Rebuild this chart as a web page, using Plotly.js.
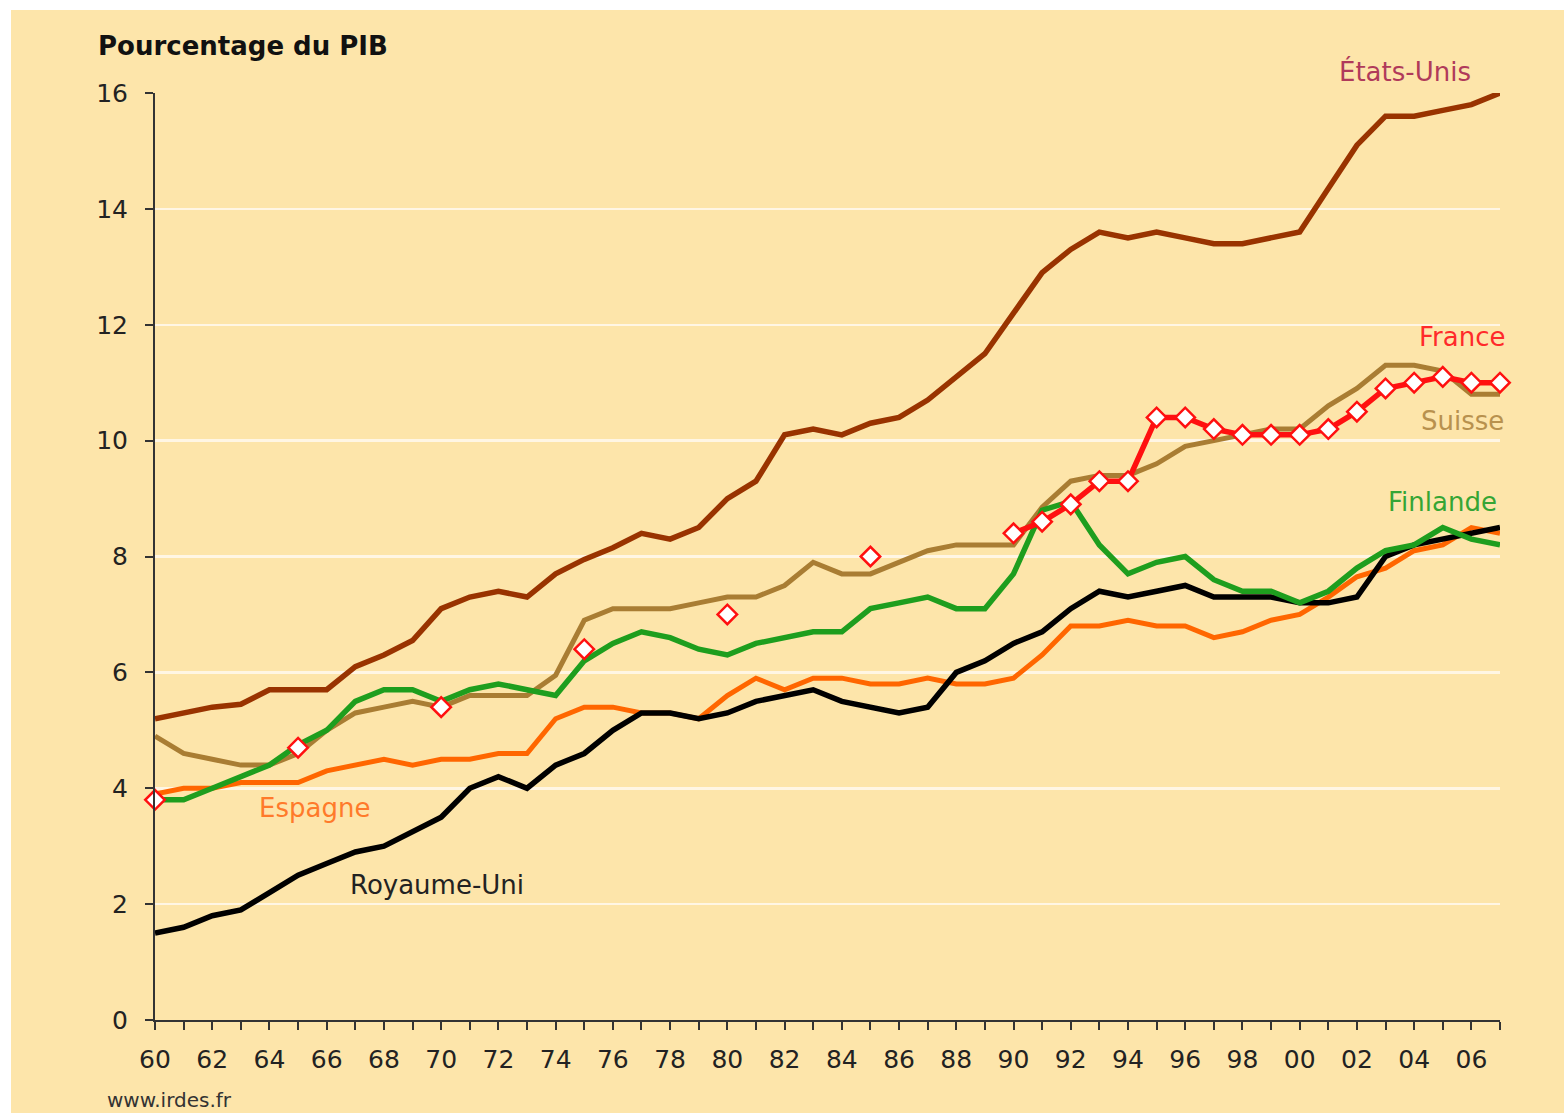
<!DOCTYPE html>
<html>
<head>
<meta charset="utf-8">
<script src="https://cdn.plot.ly/plotly-3.0.1.min.js"></script>
<style>
  html, body { margin: 0; padding: 0; background: #ffffff; width: 1564px; height: 1113px; overflow: hidden; }
  #chart { position: absolute; left: 11px; top: 10px; width: 1553px; height: 1103px; }
</style>
</head>
<body>
<div id="chart"></div>
<script>
// ---- Data ----
const years = [1960,1961,1962,1963,1964,1965,1966,1967,1968,1969,
               1970,1971,1972,1973,1974,1975,1976,1977,1978,1979,
               1980,1981,1982,1983,1984,1985,1986,1987,1988,1989,
               1990,1991,1992,1993,1994,1995,1996,1997,1998,1999,
               2000,2001,2002,2003,2004,2005,2006,2007];

const etatsUnis = [5.2,5.3,5.4,5.45,5.7,5.7,5.7,6.1,6.3,6.55,
                   7.1,7.3,7.4,7.3,7.7,7.95,8.15,8.4,8.3,8.5,
                   9.0,9.3,10.1,10.2,10.1,10.3,10.4,10.7,11.1,11.5,
                   12.2,12.9,13.3,13.6,13.5,13.6,13.5,13.4,13.4,13.5,
                   13.6,14.35,15.1,15.6,15.6,15.7,15.8,16.0];

const suisse = [4.9,4.6,4.5,4.4,4.4,4.6,5.0,5.3,5.4,5.5,
                5.4,5.6,5.6,5.6,5.95,6.9,7.1,7.1,7.1,7.2,
                7.3,7.3,7.5,7.9,7.7,7.7,7.9,8.1,8.2,8.2,
                8.2,8.85,9.3,9.4,9.4,9.6,9.9,10.0,10.1,10.2,
                10.2,10.6,10.9,11.3,11.3,11.2,10.8,10.8];

const finlande = [3.8,3.8,4.0,4.2,4.4,4.75,5.0,5.5,5.7,5.7,
                  5.5,5.7,5.8,5.7,5.6,6.2,6.5,6.7,6.6,6.4,
                  6.3,6.5,6.6,6.7,6.7,7.1,7.2,7.3,7.1,7.1,
                  7.7,8.8,8.95,8.2,7.7,7.9,8.0,7.6,7.4,7.4,
                  7.2,7.4,7.8,8.1,8.2,8.5,8.3,8.2];

const espagne = [3.9,4.0,4.0,4.1,4.1,4.1,4.3,4.4,4.5,4.4,
                 4.5,4.5,4.6,4.6,5.2,5.4,5.4,5.3,5.3,5.2,
                 5.6,5.9,5.7,5.9,5.9,5.8,5.8,5.9,5.8,5.8,
                 5.9,6.3,6.8,6.8,6.9,6.8,6.8,6.6,6.7,6.9,
                 7.0,7.3,7.65,7.8,8.1,8.2,8.5,8.4];

const royaumeUni = [1.5,1.6,1.8,1.9,2.2,2.5,2.7,2.9,3.0,3.25,
                    3.5,4.0,4.2,4.0,4.4,4.6,5.0,5.3,5.3,5.2,
                    5.3,5.5,5.6,5.7,5.5,5.4,5.3,5.4,6.0,6.2,
                    6.5,6.7,7.1,7.4,7.3,7.4,7.5,7.3,7.3,7.3,
                    7.2,7.2,7.3,8.0,8.2,8.3,8.4,8.5];

// France: observed only every 5 years before 1990 (null = no data)
const france = [3.8,null,null,null,null,4.7,null,null,null,null,
                5.4,null,null,null,null,6.4,null,null,null,null,
                7.0,null,null,null,null,8.0,null,null,null,null,
                8.4,8.6,8.9,9.3,9.3,10.4,10.4,10.2,10.1,10.1,
                10.1,10.2,10.5,10.9,11.0,11.1,11.0,11.0];

const yTickVals = [0,2,4,6,8,10,12,14,16];
const xTickText = years.map(function (y) { return (y % 2 === 0) ? String(y).slice(2) : ''; });

// ---- Styling ----
const FONT = '"DejaVu Sans", "Liberation Sans", Arial, sans-serif';
const BG = '#FDE5AA';
const AXIS = '#333333';

function lineTrace(name, yv, color, width) {
  return {
    type: 'scatter', mode: 'lines', name: name,
    x: years, y: yv,
    line: { color: color, width: width, shape: 'linear' },
    cliponaxis: false, hoverinfo: 'x+y+name'
  };
}

const traces = [
  lineTrace('États-Unis', etatsUnis, '#993300', 5.5),
  lineTrace('Suisse', suisse, '#A97D33', 5),
  lineTrace('Espagne', espagne, '#FF6600', 5),
  lineTrace('Royaume-Uni', royaumeUni, '#000000', 5.5),
  lineTrace('Finlande', finlande, '#1E9E1E', 5.5),
  {
    type: 'scatter', mode: 'lines+markers', name: 'France',
    x: years, y: france, connectgaps: false,
    line: { color: '#FF1010', width: 5.5 },
    marker: { symbol: 'diamond', size: 15, color: '#FFFFFF', line: { color: '#FF1010', width: 2.5 } },
    cliponaxis: false
  }
];

function label(text, x, y, color, size) {
  return { text: text, x: x, y: y, xref: 'x', yref: 'y', showarrow: false,
           xanchor: 'center', yanchor: 'middle',
           font: { family: FONT, size: size || 26, color: color } };
}

const layout = {
  width: 1553, height: 1103,
  paper_bgcolor: BG, plot_bgcolor: BG,
  margin: { l: 144, r: 64, t: 83, b: 93, pad: 0 },
  showlegend: false,
  font: { family: FONT, color: '#222222' },
  xaxis: {
    range: [1960, 2007], tickmode: 'array', tickvals: years, ticktext: xTickText,
    showgrid: false, zeroline: false,
    showline: true, linecolor: AXIS, linewidth: 2,
    ticks: 'outside', ticklen: 8, tickwidth: 2, tickcolor: AXIS,
    ticklabelstandoff: 8,
    tickfont: { family: FONT, size: 25, color: '#222222' }
  },
  yaxis: {
    range: [0, 16], tickmode: 'array', tickvals: yTickVals,
    showgrid: true, gridcolor: '#FFF6E4', gridwidth: 2.5,
    zeroline: false,
    showline: true, linecolor: AXIS, linewidth: 2,
    ticks: 'outside', ticklen: 8, tickwidth: 2, tickcolor: AXIS,
    ticklabelstandoff: 12,
    tickfont: { family: FONT, size: 25, color: '#222222' }
  },
  annotations: [
    { text: '<b>Pourcentage du PIB</b>', xref: 'paper', yref: 'paper',
      x: -0.0439, y: 1.0507, xanchor: 'left', yanchor: 'middle', showarrow: false,
      font: { family: FONT, size: 26, color: '#111111' } },
    { text: 'États-Unis', xref: 'paper', yref: 'paper',
      x: 0.929, y: 1.0237, xanchor: 'center', yanchor: 'middle', showarrow: false,
      font: { family: FONT, size: 26, color: '#B03A5A' } },
    label('France', 2005.67, 11.79, '#FF2A2A'),
    label('Suisse', 2005.7, 10.34, '#B8914E'),
    label('Finlande', 2005.0, 8.94, '#35A535'),
    label('Espagne', 1965.56, 3.66, '#FF7A2A'),
    label('Royaume-Uni', 1969.85, 2.33, '#222222'),
    { text: 'www.irdes.fr', xref: 'paper', yref: 'paper',
      x: -0.0372, y: -0.0863, xanchor: 'left', yanchor: 'middle', showarrow: false,
      font: { family: FONT, size: 20, color: '#333333' } }
  ]
};

Plotly.newPlot('chart', traces, layout, { staticPlot: true, displayModeBar: false });
</script>
</body>
</html>
